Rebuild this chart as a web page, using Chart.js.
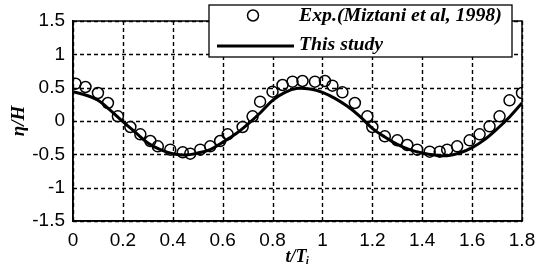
<!DOCTYPE html>
<html><head><meta charset="utf-8">
<script src="https://cdn.jsdelivr.net/npm/chart.js@4/dist/chart.umd.min.js"></script>
<style>html,body{margin:0;padding:0;background:#fff}#wrap{width:546px;height:276px;position:relative}</style>
</head><body><div id="wrap"><canvas id="c" width="546" height="276"></canvas></div>
<script>
// Experimental points (Miztani et al, 1998)
const expT   = [0.01,0.05,0.10,0.14,0.18,0.23,0.27,0.31,0.34,0.39,0.44,0.47,0.51,0.55,0.59,0.62,0.68,0.72,0.75,0.80,0.84,0.88,0.92,0.97,1.01,1.04,1.08,1.13,1.18,1.20,1.25,1.30,1.34,1.38,1.43,1.47,1.50,1.54,1.59,1.63,1.67,1.71,1.75,1.80];
const expEta = [0.56,0.51,0.42,0.27,0.07,-0.09,-0.20,-0.30,-0.38,-0.43,-0.47,-0.49,-0.43,-0.38,-0.30,-0.20,-0.09,0.07,0.29,0.44,0.54,0.59,0.60,0.59,0.60,0.53,0.43,0.27,0.07,-0.09,-0.23,-0.29,-0.36,-0.43,-0.46,-0.46,-0.43,-0.38,-0.29,-0.20,-0.08,0.07,0.31,0.42];
// This study (simulation)
const simT   = [0,0.05,0.10,0.15,0.20,0.25,0.30,0.35,0.40,0.45,0.50,0.55,0.60,0.65,0.70,0.75,0.80,0.85,0.90,0.95,1.00,1.05,1.10,1.15,1.20,1.25,1.30,1.35,1.40,1.45,1.50,1.55,1.60,1.65,1.70,1.75,1.80];
const simEta = [0.44,0.39,0.31,0.16,-0.01,-0.17,-0.33,-0.43,-0.49,-0.51,-0.48,-0.43,-0.32,-0.20,-0.05,0.12,0.31,0.43,0.49,0.48,0.43,0.34,0.22,0.07,-0.11,-0.24,-0.35,-0.43,-0.48,-0.51,-0.52,-0.48,-0.40,-0.28,-0.12,0.06,0.27];
const xTicks = [0,0.2,0.4,0.6,0.8,1,1.2,1.4,1.6,1.8];
const yTicks = [-1.5,-1,-0.5,0,0.5,1,1.5];
const labels = ['Exp.(Miztani et al, 1998)','This study'];

const frame = {
  id:'frame',
  afterDraw(ch){
    const a=ch.chartArea, c=ch.ctx, xs=ch.scales.x, ys=ch.scales.y;
    // dotted grid at the scales' ticks, behind the data
    c.save();
    c.globalCompositeOperation='destination-over';
    c.strokeStyle='#000'; c.lineWidth=1.4; c.setLineDash([4,3]);
    c.beginPath();
    xTicks.forEach(v=>{ const p=Math.round(xs.getPixelForValue(v))+0.5; c.moveTo(p,a.top); c.lineTo(p,a.bottom); });
    yTicks.forEach(v=>{ const p=Math.round(ys.getPixelForValue(v))+0.5; c.moveTo(a.left,p); c.lineTo(a.right,p); });
    c.stroke();
    c.restore();
    c.save(); c.strokeStyle='#000'; c.lineWidth=1.5; c.setLineDash([]);
    c.strokeRect(a.left,a.top,a.right-a.left,a.bottom-a.top);
    c.restore();
  }
};
const legendBox = {
  id:'legendBox',
  afterDraw(ch){
    const c=ch.ctx;
    const bx=209,by=5,bw=303,bh=52;
    c.save();
    c.fillStyle='#fff'; c.fillRect(bx,by,bw,bh);
    c.strokeStyle='#000'; c.lineWidth=1.3; c.strokeRect(bx,by,bw,bh);
    const d0=ch.data.datasets[0], d1=ch.data.datasets[1];
    c.beginPath(); c.arc(253,15.5,5.5,0,Math.PI*2);
    c.lineWidth=d0.borderWidth; c.strokeStyle=d0.borderColor; c.stroke();
    c.beginPath(); c.moveTo(217,46); c.lineTo(294,46);
    c.lineWidth=d1.borderWidth; c.strokeStyle=d1.borderColor; c.stroke();
    c.fillStyle='#000'; c.textBaseline='middle'; c.textAlign='left';
    let fs=17; c.font='italic bold '+fs+'px "Liberation Serif"';
    const w=c.measureText(d0.label).width; fs=fs*203/w;
    c.font='italic bold '+fs.toFixed(2)+'px "Liberation Serif"';
    c.fillText(d0.label,299,16);
    c.fillText(d1.label,299,45);
    c.restore();
  }
};

new Chart(document.getElementById('c'),{
  type:'scatter',
  data:{datasets:[
    {label:labels[0], data:expT.map((t,i)=>({x:t,y:expEta[i]})), showLine:false,
     pointStyle:'circle', pointRadius:5.5, pointBorderWidth:1.5, borderColor:'#000', backgroundColor:'rgba(0,0,0,0)', borderWidth:1.5, order:0},
    {label:labels[1], data:simT.map((t,i)=>({x:t,y:simEta[i]})), showLine:true, type:'line',
     pointRadius:0, borderColor:'#000', borderWidth:3, tension:0.35, fill:false, order:1}
  ]},
  options:{
    responsive:false, animation:false, devicePixelRatio:1,
    layout:{padding:{left:0,right:24,top:21,bottom:0}},
    plugins:{legend:{display:false},tooltip:{enabled:false}},
    scales:{
      x:{type:'linear',min:0,max:1.8,
        afterBuildTicks:s=>{s.ticks=xTicks.map(v=>({value:v}));},
        afterFit:s=>{s.height=55;},
        grid:{display:false,drawTicks:false},
        border:{display:true,color:'#000',width:1.5},
        ticks:{color:'#000',padding:8,maxRotation:0,autoSkip:false,font:{family:'"Liberation Sans"',size:19},
          callback:v=>String(Number(v.toFixed(2)))},
        title:{display:true,text:'t/T\u1d62',color:'#000',padding:{top:0,bottom:8},font:{family:'"Liberation Serif"',size:18,style:'italic',weight:'bold'}}
      },
      y:{type:'linear',min:-1.5,max:1.5,
        afterBuildTicks:s=>{s.ticks=yTicks.map(v=>({value:v}));},
        afterFit:s=>{s.width=73;},
        grid:{display:false,drawTicks:false},
        border:{display:true,color:'#000',width:1.5},
        ticks:{color:'#000',padding:8,autoSkip:false,font:{family:'"Liberation Sans"',size:19},
          callback:v=>String(Number(v.toFixed(2)))},
        title:{display:true,text:'\u03b7/H',color:'#000',padding:{top:8,bottom:0},font:{family:'"Liberation Serif"',size:19,style:'italic',weight:'bold'}}
      }
    }
  },
  plugins:[frame,legendBox]
});
</script></body></html>
